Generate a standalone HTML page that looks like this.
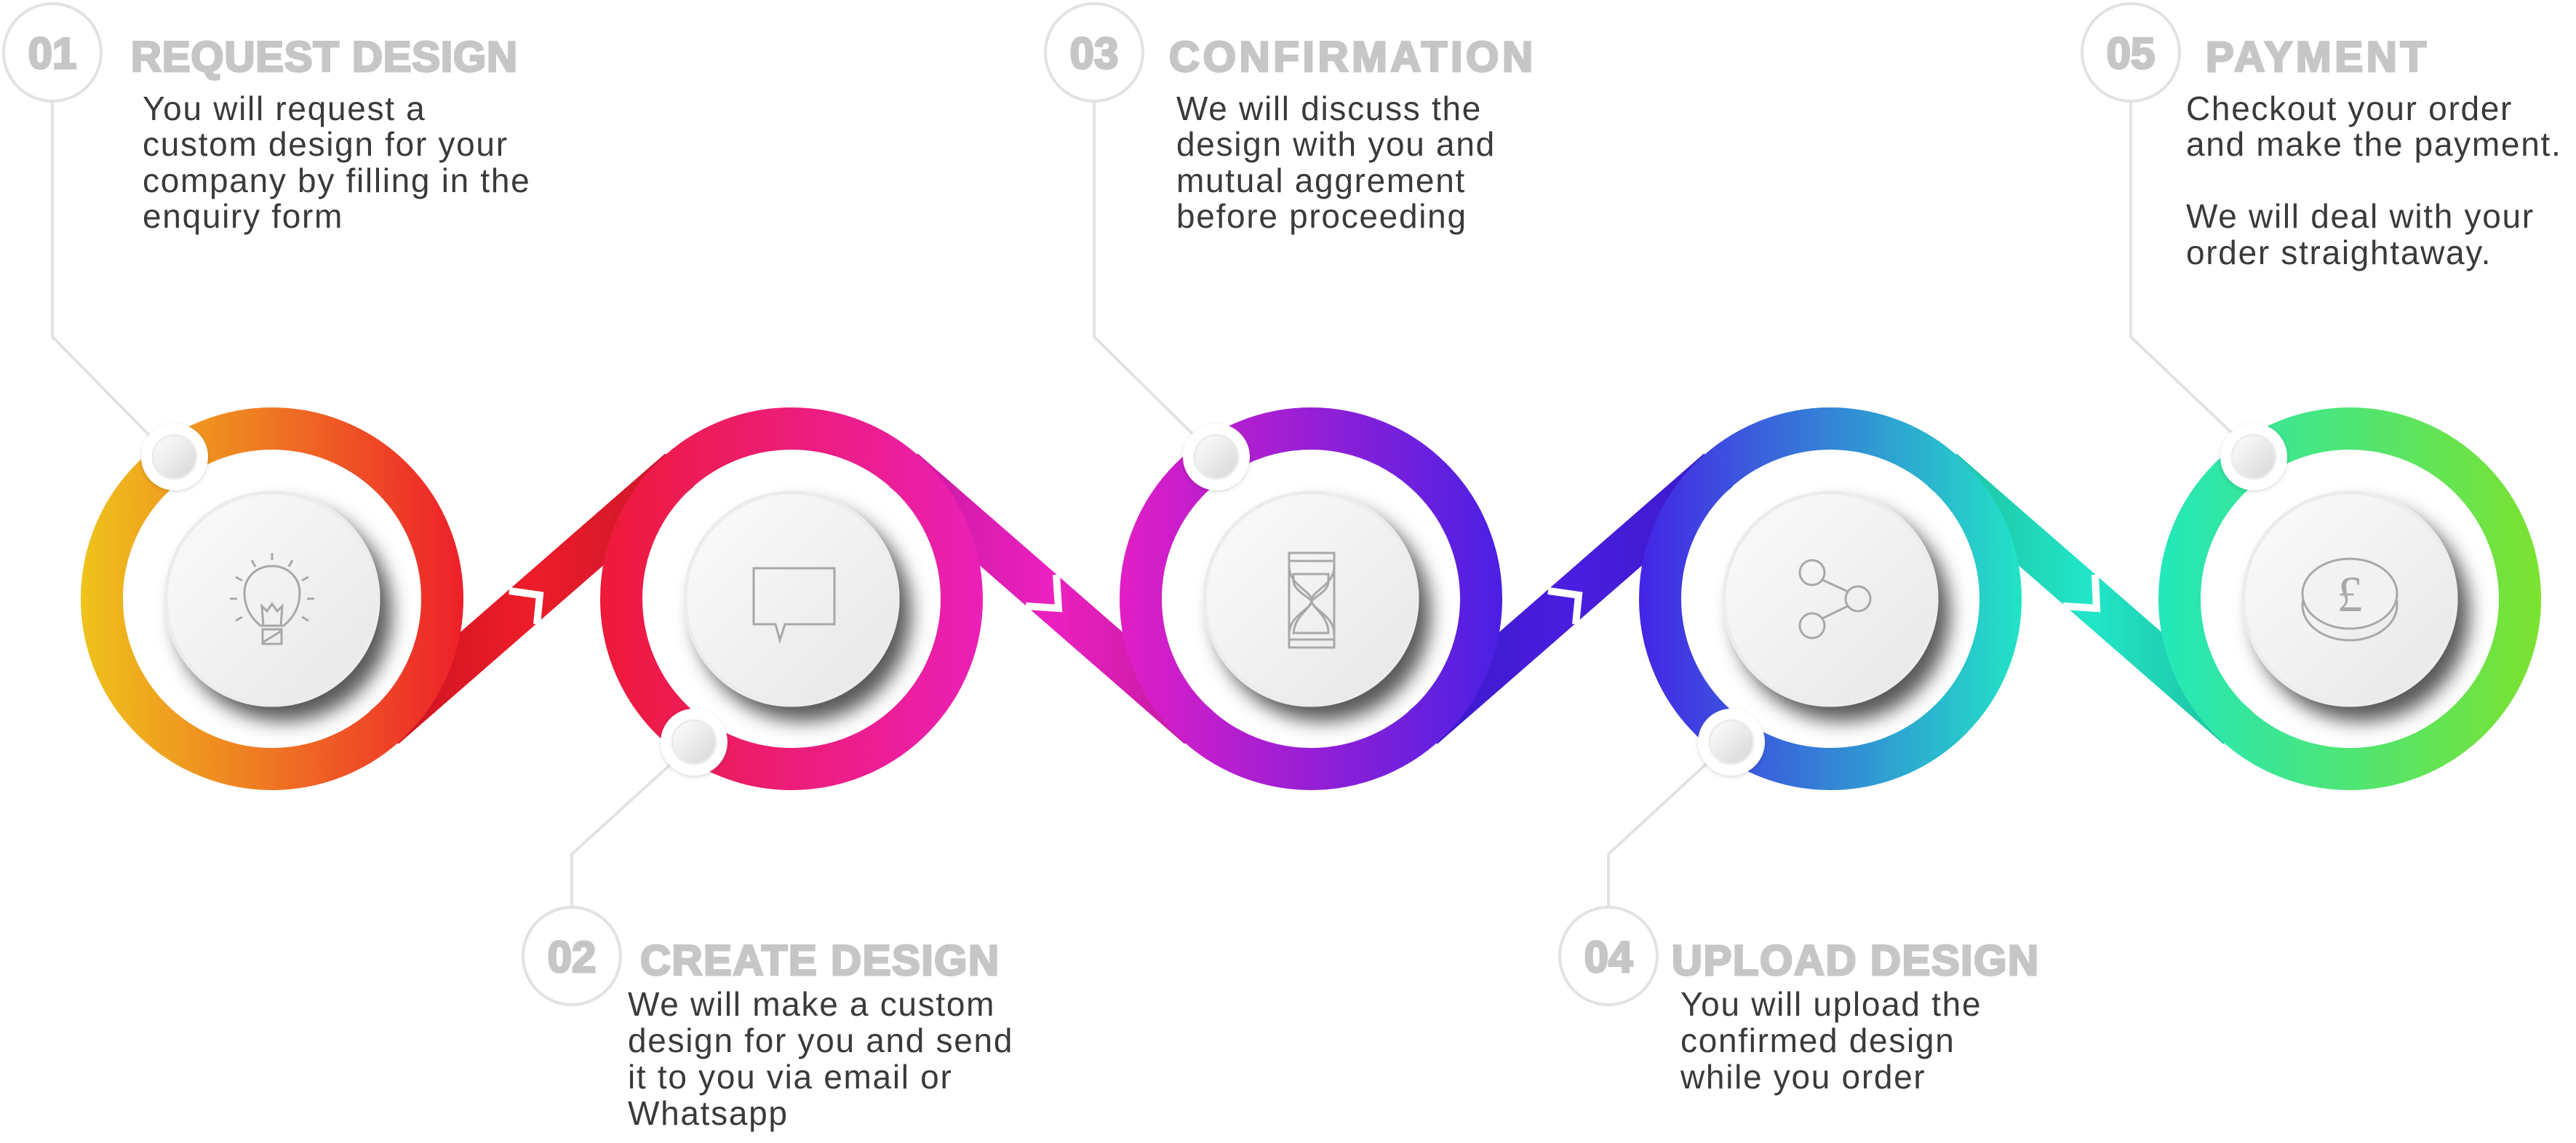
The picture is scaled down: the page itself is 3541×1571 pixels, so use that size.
<!DOCTYPE html>
<html><head><meta charset="utf-8"><style>
html,body{margin:0;padding:0;background:#fff;}
svg{display:block;}
</style></head><body>
<svg width="3541" height="1571" viewBox="0 0 3541 1571" xmlns="http://www.w3.org/2000/svg">
<defs>
<linearGradient id="g1" gradientUnits="userSpaceOnUse" x1="111" y1="0" x2="637" y2="0"><stop offset="0" stop-color="#efc31c"/><stop offset="0.45" stop-color="#ef7e22"/><stop offset="1" stop-color="#ee1f2a"/></linearGradient>
<linearGradient id="g2" gradientUnits="userSpaceOnUse" x1="825" y1="0" x2="1351" y2="0"><stop offset="0" stop-color="#ee1a38"/><stop offset="1" stop-color="#ea20b8"/></linearGradient>
<linearGradient id="g3" gradientUnits="userSpaceOnUse" x1="1539" y1="0" x2="2065" y2="0"><stop offset="0" stop-color="#e21ec6"/><stop offset="1" stop-color="#4a20e4"/></linearGradient>
<linearGradient id="g4" gradientUnits="userSpaceOnUse" x1="2253" y1="0" x2="2779" y2="0"><stop offset="0" stop-color="#4424e6"/><stop offset="1" stop-color="#22e4c6"/></linearGradient>
<linearGradient id="g5" gradientUnits="userSpaceOnUse" x1="2967" y1="0" x2="3493" y2="0"><stop offset="0" stop-color="#22e8bc"/><stop offset="1" stop-color="#7ce22e"/></linearGradient>
<linearGradient id="b1" gradientUnits="userSpaceOnUse" x1="528" y1="0" x2="934" y2="0"><stop offset="0" stop-color="#c8141f"/><stop offset="0.5" stop-color="#ee1c2a"/><stop offset="1" stop-color="#c8162a"/></linearGradient>
<linearGradient id="b2" gradientUnits="userSpaceOnUse" x1="1242" y1="0" x2="1648" y2="0"><stop offset="0" stop-color="#c81aa0"/><stop offset="0.5" stop-color="#ec20c0"/><stop offset="1" stop-color="#c01aa0"/></linearGradient>
<linearGradient id="b3" gradientUnits="userSpaceOnUse" x1="1956" y1="0" x2="2362" y2="0"><stop offset="0" stop-color="#3a18c8"/><stop offset="0.5" stop-color="#4a1ee0"/><stop offset="1" stop-color="#3a1ac8"/></linearGradient>
<linearGradient id="b4" gradientUnits="userSpaceOnUse" x1="2670" y1="0" x2="3076" y2="0"><stop offset="0" stop-color="#1cc0a0"/><stop offset="0.5" stop-color="#22e6c8"/><stop offset="1" stop-color="#1cbf9e"/></linearGradient>
<linearGradient id="disc" x1="0" y1="0" x2="1" y2="1"><stop offset="0" stop-color="#fcfcfc"/><stop offset="1" stop-color="#e6e6e6"/></linearGradient>
<linearGradient id="knob" x1="0" y1="0" x2="1" y2="1"><stop offset="0" stop-color="#ffffff"/><stop offset="1" stop-color="#d6d6d6"/></linearGradient>
<filter id="sh" x="-40%" y="-40%" width="180%" height="180%"><feDropShadow dx="16" dy="20" stdDeviation="13" flood-color="#000" flood-opacity="0.65"/></filter>
<filter id="ksh" x="-50%" y="-50%" width="200%" height="200%"><feDropShadow dx="0" dy="2" stdDeviation="3" flood-color="#000" flood-opacity="0.15"/></filter>
</defs>

<!-- connector lines -->
<g stroke="#e2e2e2" stroke-width="4" fill="none">
<polyline points="72,140 72,463 205,598"/>
<polyline points="1504,140 1504,463 1641,598"/>
<polyline points="2929,140 2929,463 3071,598"/>
<polyline points="786,1246 786,1174 930,1043"/>
<polyline points="2211,1246 2211,1174 2353,1043"/>
</g>

<!-- bands -->
<g stroke-width="60" stroke-linecap="butt">
<line x1="528" y1="1000" x2="934" y2="646" stroke="url(#b1)"/>
<line x1="1242" y1="646" x2="1648" y2="1000" stroke="url(#b2)"/>
<line x1="1956" y1="1000" x2="2362" y2="646" stroke="url(#b3)"/>
<line x1="2670" y1="646" x2="3076" y2="1000" stroke="url(#b4)"/>
</g>
<g stroke="#fff" stroke-width="10" fill="none">
<polyline points="700,812 742,818 738,858"/>
<polyline points="1452,790 1455,836 1410,833"/>
<polyline points="2128,812 2170,818 2166,858"/>
<polyline points="2880,790 2882,836 2836,833"/>
</g>

<!-- rings -->
<g fill="none" stroke-width="58">
<circle cx="374" cy="823" r="234" stroke="url(#g1)"/>
<circle cx="1088" cy="823" r="234" stroke="url(#g2)"/>
<circle cx="1802" cy="823" r="234" stroke="url(#g3)"/>
<circle cx="2516" cy="823" r="234" stroke="url(#g4)"/>
<circle cx="3230" cy="823" r="234" stroke="url(#g5)"/>
</g>

<!-- discs -->
<g fill="url(#disc)" stroke="#ececec" stroke-width="5" filter="url(#sh)">
<circle cx="374" cy="823" r="146"/>
<circle cx="1088" cy="823" r="146"/>
<circle cx="1802" cy="823" r="146"/>
<circle cx="2516" cy="823" r="146"/>
<circle cx="3230" cy="823" r="146"/>
</g>

<!-- knobs -->
<g filter="url(#ksh)">
<circle cx="240" cy="628" r="46" fill="#fff"/>
<circle cx="954" cy="1020" r="46" fill="#fff"/>
<circle cx="1672" cy="628" r="46" fill="#fff"/>
<circle cx="2380" cy="1020" r="46" fill="#fff"/>
<circle cx="3098" cy="628" r="46" fill="#fff"/>
</g>
<g fill="url(#knob)" stroke="#ececec" stroke-width="3">
<circle cx="240" cy="628" r="30"/>
<circle cx="954" cy="1020" r="30"/>
<circle cx="1672" cy="628" r="30"/>
<circle cx="2380" cy="1020" r="30"/>
<circle cx="3098" cy="628" r="30"/>
</g>

<!-- icons -->
<g stroke="#a8a8a8" stroke-width="3" fill="none">
<path d="M358,860 C340,845 336,828 336,815 C336,793 353,778 374,778 C395,778 412,793 412,815 C412,828 408,845 390,860 Z"/>
<path d="M362,860 L360,833 L367,840 L374,830 L381,840 L388,833 L386,860"/>
<rect x="361" y="865" width="26" height="20"/>
<line x1="361" y1="883" x2="387" y2="867"/>
<line x1="374" y1="760" x2="374" y2="770"/><line x1="346" y1="770" x2="351" y2="779"/><line x1="402" y1="770" x2="397" y2="779"/>
<line x1="324" y1="793" x2="333" y2="798"/><line x1="424" y1="793" x2="415" y2="798"/>
<line x1="316" y1="823" x2="326" y2="823"/><line x1="422" y1="823" x2="432" y2="823"/>
<line x1="324" y1="853" x2="333" y2="848"/><line x1="424" y1="853" x2="415" y2="848"/>
<path d="M1036,781 L1147,781 L1147,858 L1079,858 L1072,880 L1066,858 L1036,858 Z"/>
<rect x="1772" y="760" width="62" height="130"/>
<line x1="1772" y1="771" x2="1834" y2="771"/><line x1="1772" y1="879" x2="1834" y2="879"/>
<path d="M1778,789 L1826,789 L1826,800 C1826,812 1808,820 1803,826 C1798,820 1780,812 1778,800 Z"/>
<path d="M1778,870 L1826,870 C1826,848 1808,838 1803,828 C1798,838 1780,848 1778,870 Z"/>
<path d="M1772,778 C1772,805 1803,812 1803,825 C1803,838 1772,845 1772,872"/>
<path d="M1834,778 C1834,805 1803,812 1803,825 C1803,838 1834,845 1834,872"/>
<circle cx="2491" cy="787" r="17"/><circle cx="2554" cy="823" r="17"/><circle cx="2491" cy="860" r="17"/>
<line x1="2505" y1="797" x2="2540" y2="813"/><line x1="2505" y1="850" x2="2540" y2="833"/>
<ellipse cx="3230" cy="832" rx="65" ry="48"/>
<ellipse cx="3230" cy="816" rx="65" ry="48" fill="#f2f2f2"/>
</g>
<text x="3230" y="840" font-family="Liberation Serif, serif" font-size="70" fill="#a8a8a8" text-anchor="middle">£</text>

<!-- number circles -->
<g fill="#fff" stroke="#e2e2e2" stroke-width="4">
<circle cx="72" cy="72" r="67"/>
<circle cx="1504" cy="72" r="67"/>
<circle cx="2929" cy="72" r="67"/>
<circle cx="786" cy="1314" r="67"/>
<circle cx="2211" cy="1314" r="67"/>
</g>
<g font-family="Liberation Sans, sans-serif" font-weight="bold" font-size="60" fill="#c6c6c6" stroke="#c6c6c6" stroke-width="3" text-anchor="middle">
<text x="72" y="94">01</text>
<text x="1504" y="94">03</text>
<text x="2929" y="94">05</text>
<text x="786" y="1336">02</text>
<text x="2211" y="1336">04</text>
</g>
<g font-family="Liberation Sans, sans-serif" font-weight="bold" font-size="58" fill="#c6c6c6" stroke="#c6c6c6" stroke-width="3">
<text x="180" y="98" textLength="531" lengthAdjust="spacing">REQUEST DESIGN</text>
<text x="1607" y="98" textLength="500" lengthAdjust="spacing">CONFIRMATION</text>
<text x="3032" y="98" textLength="303" lengthAdjust="spacing">PAYMENT</text>
<text x="880" y="1340" textLength="493" lengthAdjust="spacing">CREATE DESIGN</text>
<text x="2298" y="1340" textLength="504" lengthAdjust="spacing">UPLOAD DESIGN</text>
</g>

<g font-family="Liberation Sans, sans-serif" font-size="46" letter-spacing="1.7" fill="#3a3a3a">
<text x="196" y="165">You will request a</text>
<text x="196" y="214">custom design for your</text>
<text x="196" y="264">company by filling in the</text>
<text x="196" y="313">enquiry form</text>

<text x="1617" y="165">We will discuss the</text>
<text x="1617" y="214">design with you and</text>
<text x="1617" y="264">mutual aggrement</text>
<text x="1617" y="313">before proceeding</text>

<text x="3005" y="165">Checkout your order</text>
<text x="3005" y="214">and make the payment.</text>
<text x="3005" y="313">We will deal with your</text>
<text x="3005" y="363">order straightaway.</text>

<text x="863" y="1396">We will make a custom</text>
<text x="863" y="1446">design for you and send</text>
<text x="863" y="1496">it to you via email or</text>
<text x="863" y="1546">Whatsapp</text>

<text x="2310" y="1396">You will upload the</text>
<text x="2310" y="1446">confirmed design</text>
<text x="2310" y="1496">while you order</text>
</g>
</svg>
</body></html>
